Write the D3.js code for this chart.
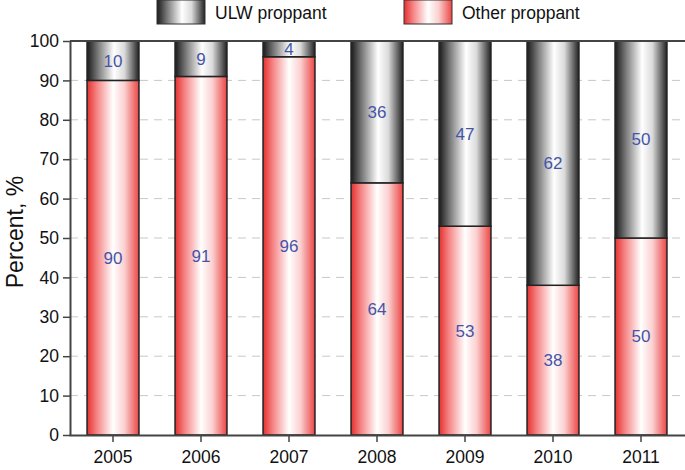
<!DOCTYPE html>
<html>
<head>
<meta charset="utf-8">
<script src="https://cdn.jsdelivr.net/npm/d3@7"></script>
<style>
  body { margin: 0; background: #fff; }
  text { font-family: "Liberation Sans", Arial, sans-serif; }
</style>
</head>
<body>
<script>
// Chart data
var years = ["2005", "2006", "2007", "2008", "2009", "2010", "2011"];
var ulw = [10, 9, 4, 36, 47, 62, 50];
var other = [90, 91, 96, 64, 53, 38, 50];
var yTicks = [0, 10, 20, 30, 40, 50, 60, 70, 80, 90, 100];

var svgWidth = 685;
var svgHeight = 470;
var margin = { top: 41, right: 0, bottom: 35, left: 70 };
var width = svgWidth - margin.left - margin.right;
var height = svgHeight - margin.top - margin.bottom;

var svg = d3.select("body").append("svg")
    .attr("width", svgWidth)
    .attr("height", svgHeight);

// gradients
var defs = svg.append("defs");
var grey = defs.append("linearGradient").attr("id", "gGrey")
    .attr("x1", "0%").attr("x2", "100%").attr("y1", "0%").attr("y2", "0%");
grey.append("stop").attr("offset", "0%").attr("stop-color", "#1a1a1a");
grey.append("stop").attr("offset", "22%").attr("stop-color", "#7e7e7e");
grey.append("stop").attr("offset", "52%").attr("stop-color", "#ffffff");
grey.append("stop").attr("offset", "72%").attr("stop-color", "#dadada");
grey.append("stop").attr("offset", "100%").attr("stop-color", "#222222");

var red = defs.append("linearGradient").attr("id", "gRed")
    .attr("x1", "0%").attr("x2", "100%").attr("y1", "0%").attr("y2", "0%");
red.append("stop").attr("offset", "0%").attr("stop-color", "#e53030");
red.append("stop").attr("offset", "20%").attr("stop-color", "#f68888");
red.append("stop").attr("offset", "50%").attr("stop-color", "#ffffff");
red.append("stop").attr("offset", "72%").attr("stop-color", "#fbd0d0");
red.append("stop").attr("offset", "100%").attr("stop-color", "#ec4545");

var chartGroup = svg.append("g")
    .attr("transform", `translate(${margin.left}, ${margin.top})`);

// scales
var xScale = d3.scaleBand()
    .domain(years)
    .range([-1, width])
    .paddingInner(0.41)
    .paddingOuter(0.205);

var yScale = d3.scaleLinear()
    .domain([0, 100])
    .range([height, 0]);

// dashed gridlines
chartGroup.selectAll(".grid")
    .data(yTicks.filter(d => d > 0 && d < 100))
    .enter()
    .append("line")
    .attr("x1", 0)
    .attr("x2", width)
    .attr("y1", d => yScale(d))
    .attr("y2", d => yScale(d))
    .attr("stroke", "#c8c8c8")
    .attr("stroke-width", 1)
    .attr("stroke-dasharray", "8,6");

// stacked bars
var data = years.map((y, i) => ({ year: y, ulw: ulw[i], other: other[i] }));

var bars = chartGroup.selectAll(".bar")
    .data(data)
    .enter()
    .append("g");

bars.append("rect")
    .attr("x", d => xScale(d.year))
    .attr("y", d => yScale(d.other))
    .attr("width", xScale.bandwidth())
    .attr("height", d => yScale(0) - yScale(d.other))
    .attr("fill", "url(#gRed)")
    .attr("stroke", "#222")
    .attr("stroke-width", 1.5);

bars.append("rect")
    .attr("x", d => xScale(d.year))
    .attr("y", d => yScale(100))
    .attr("width", xScale.bandwidth())
    .attr("height", d => yScale(d.other) - yScale(100))
    .attr("fill", "url(#gGrey)")
    .attr("stroke", "#222")
    .attr("stroke-width", 1.5);

// value labels
bars.append("text")
    .attr("x", d => xScale(d.year) + xScale.bandwidth() / 2)
    .attr("y", d => yScale(d.other / 2))
    .attr("dy", "0.35em")
    .attr("text-anchor", "middle")
    .attr("fill", "#4455a8")
    .attr("font-size", "17px")
    .text(d => d.other);

bars.append("text")
    .attr("x", d => xScale(d.year) + xScale.bandwidth() / 2)
    .attr("y", d => yScale(d.other + d.ulw / 2))
    .attr("dy", "0.35em")
    .attr("text-anchor", "middle")
    .attr("fill", "#4455a8")
    .attr("font-size", "17px")
    .text(d => d.ulw);

// axes
var bottomAxis = d3.axisBottom(xScale).tickSize(7).tickSizeOuter(0);
var leftAxis = d3.axisLeft(yScale).tickValues(yTicks).tickSize(7).tickSizeOuter(0);

var xAxisG = chartGroup.append("g")
    .attr("transform", `translate(0, ${height})`)
    .call(bottomAxis);
xAxisG.select(".domain").attr("stroke", "#444").attr("stroke-width", 2);
xAxisG.selectAll(".tick line").attr("stroke", "#444").attr("stroke-width", 1.5);
xAxisG.selectAll(".tick text")
    .attr("font-size", "17.5px")
    .attr("fill", "#111")
    .attr("dy", "1.0em")
    .style("font-family", "'Liberation Sans', Arial, sans-serif");

var yAxisG = chartGroup.append("g").call(leftAxis);
yAxisG.select(".domain").attr("stroke", "#444").attr("stroke-width", 2);
yAxisG.selectAll(".tick line").attr("stroke", "#444").attr("stroke-width", 1.5);
yAxisG.selectAll(".tick text")
    .attr("font-size", "17.5px")
    .attr("fill", "#111")
    .attr("x", -11)
    .style("font-family", "'Liberation Sans', Arial, sans-serif");

// top border
chartGroup.append("line")
    .attr("x1", 0).attr("x2", width)
    .attr("y1", 0).attr("y2", 0)
    .attr("stroke", "#444")
    .attr("stroke-width", 2);

// y title
svg.append("text")
    .attr("transform", `translate(23, 232) rotate(-90)`)
    .attr("text-anchor", "middle")
    .attr("font-size", "23px")
    .attr("fill", "#111")
    .text("Percent, %");

// legend
var legendItems = [
    { label: "ULW proppant", fill: "url(#gGrey)", x: 157 },
    { label: "Other proppant", fill: "url(#gRed)", x: 404 }
];
var legend = svg.selectAll(".legend")
    .data(legendItems)
    .enter()
    .append("g")
    .attr("transform", d => `translate(${d.x}, 0)`);

legend.append("rect")
    .attr("x", 0).attr("y", 0)
    .attr("width", 48).attr("height", 24)
    .attr("fill", d => d.fill)
    .attr("stroke", "#333")
    .attr("stroke-width", 1);

legend.append("text")
    .attr("x", 58)
    .attr("y", 13)
    .attr("dy", "0.35em")
    .attr("font-size", "17.5px")
    .attr("fill", "#111")
    .text(d => d.label);
</script>
</body>
</html>
